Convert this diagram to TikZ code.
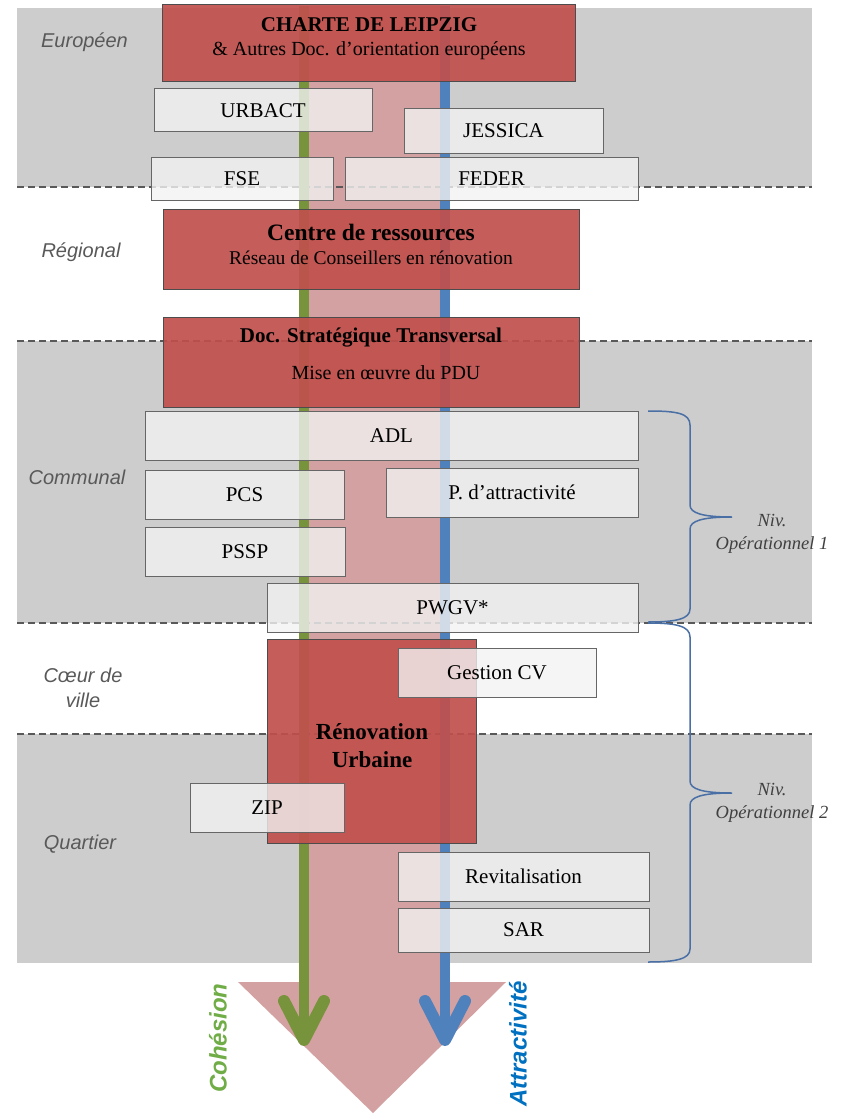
\documentclass[tikz,border=0pt]{standalone}
\usepackage{fontspec}
\setmainfont{Liberation Serif}
\newfontfamily\lsans{Liberation Sans}
\definecolor{bandgray}{HTML}{CDCDCD}
\definecolor{redbox}{HTML}{C0504D}
\definecolor{pinkband}{HTML}{D3A1A1}
\definecolor{gline}{HTML}{77933C}
\definecolor{bline}{HTML}{4F81BD}
\definecolor{bracec}{HTML}{4A6FA5}
\definecolor{labgray}{HTML}{595959}
\definecolor{cohes}{HTML}{70AD47}
\definecolor{attr}{HTML}{0070C0}
\tikzset{
  band/.style={fill=bandgray, draw=none},
  sepline/.style={draw=black!65, line width=1.4pt, dash pattern=on 7pt off 4pt},
  wbox/.style={draw=black!60, line width=1pt, fill=black!5, fill opacity=0.8, text opacity=1, draw opacity=1, inner sep=0pt, font=\fontsize{21}{24}\selectfont},
  rbox/.style={draw=black!70, line width=1pt, fill=redbox, fill opacity=0.92, text opacity=1, draw opacity=1, inner sep=0pt},
  rtext/.style={align=center, inner sep=0pt},
  lvl/.style={font=\lsans\itshape\fontsize{20}{25}\selectfont, text=labgray, align=center},
  axisline/.style={line width=10pt},
  headline/.style={line width=12pt, line cap=round, line join=round},
  bracepath/.style={draw=bracec, line width=1.5pt},
  niv/.style={font=\itshape\fontsize{18.5}{23}\selectfont, text=black!75, align=center},
}
\begin{document}
\begin{tikzpicture}[x=1pt,y=-1pt]
\useasboundingbox (0,0) rectangle (846,1113);
% level bands
\fill[band] (17,8) rectangle (812,187);
\fill[band] (17,341) rectangle (812,623);
\fill[band] (17,734) rectangle (812,963);
% central band and triangle
\fill[pinkband] (309,6) -- (440,6) -- (440,982) -- (506,982) -- (373,1113) -- (238,982) -- (309,982) -- cycle;
% separators
\draw[sepline] (17,187) -- (812,187);
\draw[sepline] (17,341) -- (812,341);
\draw[sepline] (17,623) -- (812,623);
\draw[sepline] (17,734) -- (812,734);
% axes
\draw[axisline, gline] (304,6) coordinate (gtop) -- (304,1036) coordinate (gend);
\draw[headline, gline] (284,1001) -- (304,1040) coordinate (gtip) -- (324,1001);
\draw[axisline, bline] (445,6) coordinate (btop) -- (445,1036) coordinate (bend);
\draw[headline, bline] (425,1001) -- (445,1040) coordinate (btip) -- (465,1001);
% red boxes
\node[rbox, minimum width=413, minimum height=77] (charte) at (368.5,43.5) {};
\node[rtext, font=\bfseries\fontsize{21}{24}\selectfont] (charteT) at (369,25) {CHARTE DE LEIPZIG};
\node[rtext, font=\fontsize{20}{24}\selectfont] (charteS) at (369,51) {\& Autres Doc. d’orientation européens};
\node[rbox, minimum width=416, minimum height=80] (centre) at (371,249) {};
\node[rtext, font=\bfseries\fontsize{23.5}{27}\selectfont] (centreT) at (371,232) {Centre de ressources};
\node[rtext, font=\fontsize{19.5}{24}\selectfont] (centreS) at (371,258) {Réseau de Conseillers en rénovation};
\node[rbox, minimum width=416, minimum height=90] (doc) at (371,362) {};
\node[rtext, font=\bfseries\fontsize{21}{24}\selectfont] (docT) at (371,338) {Doc. Stratégique Transversal};
\node[rtext, font=\fontsize{20}{24}\selectfont] (docS) at (386,373) {Mise en œuvre du PDU};
\node[rbox, minimum width=209, minimum height=204] (renov) at (371.5,741) {};
\node[rtext, font=\bfseries\fontsize{23}{28}\selectfont] (renovT) at (372,732) {Rénovation};
\node[rtext, font=\bfseries\fontsize{23}{28}\selectfont] (renovU) at (372,760) {Urbaine};
% white boxes
\node[wbox, minimum width=218, minimum height=43] (urbact) at (263,110.5) {URBACT};
\node[wbox, minimum width=199, minimum height=44] (jessica) at (503.5,131) {JESSICA};
\node[wbox, minimum width=182, minimum height=43] (fse) at (242,178.5) {FSE};
\node[wbox, minimum width=293, minimum height=43] (feder) at (491.5,178.5) {FEDER};
\node[wbox, minimum width=493, minimum height=49] (adl) at (391.5,435.5) {ADL};
\node[wbox, minimum width=199, minimum height=49] (pcs) at (244.5,494.5) {PCS};
\node[wbox, minimum width=252, minimum height=49] (pattr) at (512,492.5) {P. d’attractivité};
\node[wbox, minimum width=200, minimum height=49] (pssp) at (245,551.5) {PSSP};
\node[wbox, minimum width=371, minimum height=49] (pwgv) at (452.5,607.5) {PWGV*};
\node[wbox, minimum width=198, minimum height=49] (gestion) at (497,672.5) {Gestion CV};
\node[wbox, minimum width=154, minimum height=49] (zip) at (267,807.5) {ZIP};
\node[wbox, minimum width=251, minimum height=49] (revit) at (523.5,876.5) {Revitalisation};
\node[wbox, minimum width=251, minimum height=44] (sar) at (523.5,930) {SAR};
% level labels
\node[lvl] (eur) at (84.5,42) {Européen};
\node[lvl] (reg) at (81,252) {Régional};
\node[lvl] (com) at (77,477) {Communal};
\node[lvl] (coeur) at (83,688) {Cœur de\\ville};
\node[lvl] (quart) at (80,844) {Quartier};
% braces
\coordinate (b1top) at (648,411);
\coordinate (b1tip) at (732,517);
\coordinate (b1bot) at (648,622);
\draw[bracepath] (b1top) .. controls (676,411) and (690,413) .. (690,425) -- (690,505)
  .. controls (690,513) and (702,517) .. (b1tip)
  .. controls (702,517) and (690,521) .. (690,529) -- (690,609)
  .. controls (690,619) and (676,622) .. (b1bot);
\coordinate (b2top) at (648,623);
\coordinate (b2tip) at (732,793);
\coordinate (b2bot) at (648,962);
\draw[bracepath] (b2top) .. controls (676,623) and (690,626) .. (690,637) -- (690,781)
  .. controls (690,789) and (702,793) .. (b2tip)
  .. controls (702,793) and (690,797) .. (690,805) -- (690,949)
  .. controls (690,959) and (676,962) .. (b2bot);
\node[niv] (niv1) at (772,534) {Niv.\\Opérationnel 1};
\node[niv] (niv2) at (772,803) {Niv.\\Opérationnel 2};
% axis names
\node[rotate=90, font=\lsans\bfseries\itshape\fontsize{24}{28}\selectfont, text=cohes] (cohesion) at (218,1038) {Cohésion};
\node[rotate=90, font=\lsans\bfseries\itshape\fontsize{24}{28}\selectfont, text=attr] (attract) at (518,1044) {Attractivité};
\end{tikzpicture}
\end{document}
